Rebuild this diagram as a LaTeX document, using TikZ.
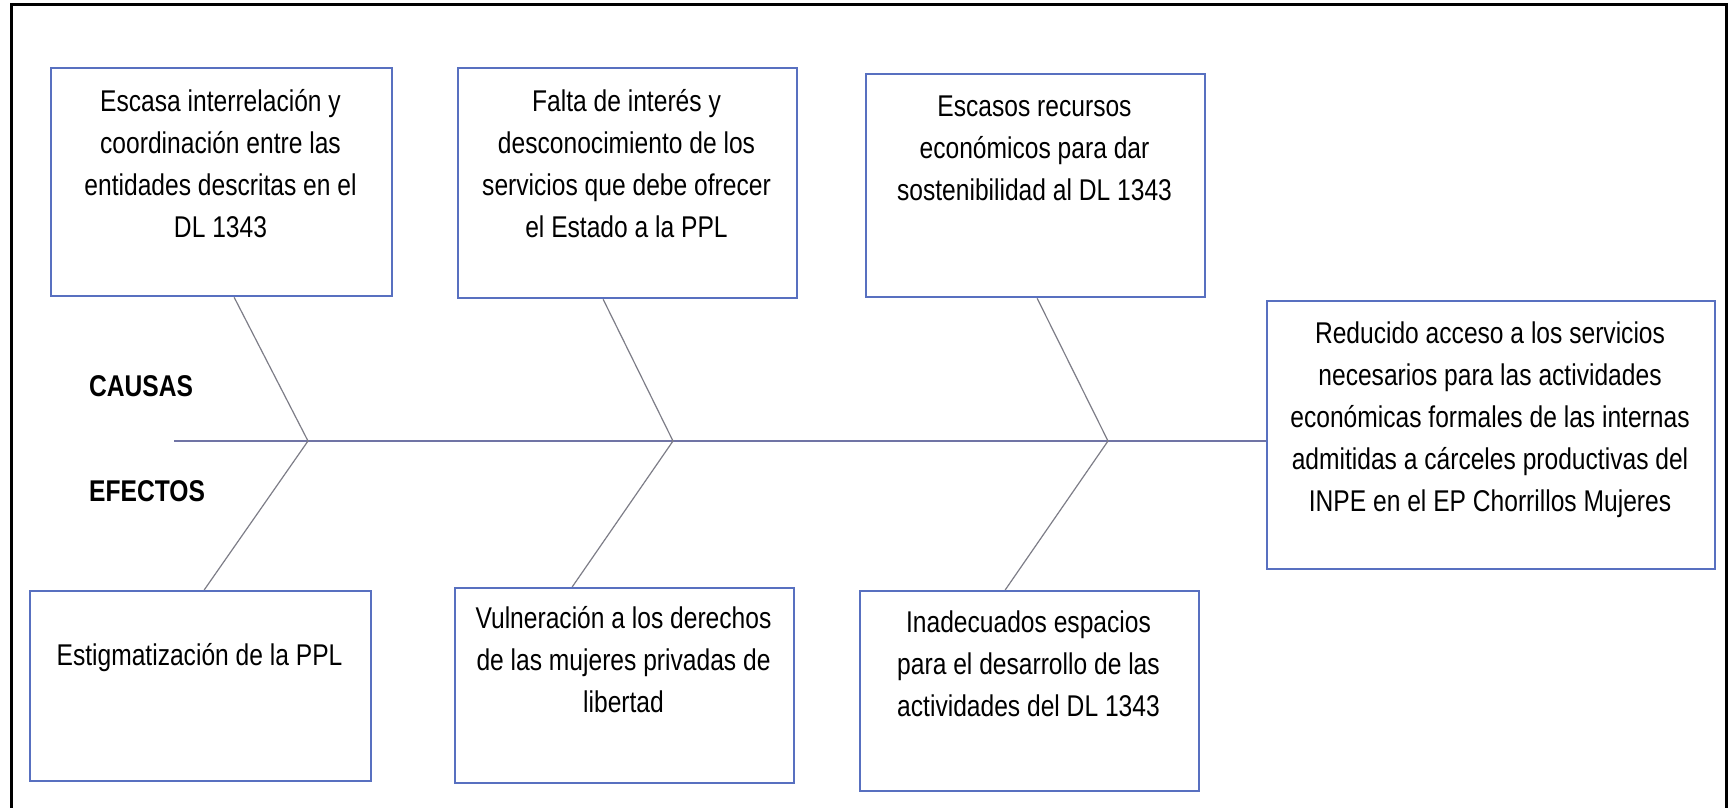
\documentclass[tikz,border=0pt]{standalone}
\usepackage{fontspec}
\setmainfont[FakeStretch=0.82]{Liberation Sans}
\definecolor{boxblue}{RGB}{88,112,192}
\definecolor{spinecol}{RGB}{112,116,165}
\definecolor{bonecol}{RGB}{125,125,135}
\begin{document}
\begin{tikzpicture}[x=1pt,y=-1pt,
  box/.style={draw=boxblue,line width=2.3pt,rectangle,inner sep=0pt,anchor=north west},
  txt/.style={align=center,font=\fontsize{30}{42}\selectfont,inner sep=0pt,anchor=center},
  lbl/.style={font=\fontsize{30}{36}\selectfont\bfseries,inner sep=0pt,anchor=west},
  bone/.style={draw=bonecol,line width=1.2pt},
  spine/.style={draw=spinecol,line width=1.8pt}]
\useasboundingbox (0,0) rectangle (1729,808);
% frame
\draw[line width=3pt] (11,812) -- (11,5) -- (1726,5) -- (1726,812);
% cause boxes
\node[box,minimum width=341pt,minimum height=228pt] (c1) at (50,67) {};
\node[box,minimum width=339pt,minimum height=230pt] (c2) at (457,67) {};
\node[box,minimum width=339pt,minimum height=223pt] (c3) at (865,73) {};
% effect boxes
\node[box,minimum width=341pt,minimum height=190pt] (e1) at (29,590) {};
\node[box,minimum width=339pt,minimum height=195pt] (e2) at (454,587) {};
\node[box,minimum width=339pt,minimum height=200pt] (e3) at (859,590) {};
% problem box
\node[box,minimum width=448pt,minimum height=268pt] (p) at (1266,300) {};
% texts
\node[txt] (tc1) at (220.5,164) {Escasa interrelación y\\coordinación entre las\\entidades descritas en el\\DL 1343};
\node[txt] (tc2) at (626.5,164) {Falta de interés y\\desconocimiento de los\\servicios que debe ofrecer\\el Estado a la PPL};
\node[txt] (tc3) at (1034.5,148) {Escasos recursos\\económicos para dar\\sostenibilidad al DL 1343};
\node[txt] (te1) at (199.5,658) {Estigmatización de la PPL};
\node[txt] (te2) at (623.5,660) {Vulneración a los derechos\\de las mujeres privadas de\\libertad};
\node[txt] (te3) at (1028.5,664) {Inadecuados espacios\\para el desarrollo de las\\actividades del DL 1343};
\node[txt] (tp) at (1490,420) {Reducido acceso a los servicios\\necesarios para las actividades\\económicas formales de las internas\\admitidas a cárceles productivas del\\INPE en el EP Chorrillos Mujeres};
% labels
\node[lbl] (causas) at (89,386) {CAUSAS};
\node[lbl] (efectos) at (89,491) {EFECTOS};
% spine and bones
\coordinate (s0) at (174,441);
\coordinate (j1) at (308,441);
\coordinate (j2) at (673,441);
\coordinate (j3) at (1108,441);
\draw[spine] (s0) -- (s0 -| p.west);
\draw[bone] ([xshift=12.5pt]c1.south) -- (j1) -- ([xshift=3.5pt]e1.north);
\draw[bone] ([xshift=-24.5pt]c2.south) -- (j2) -- ([xshift=-52.5pt]e2.north);
\draw[bone] ([xshift=1.5pt]c3.south) -- (j3) -- ([xshift=-24.5pt]e3.north);
\end{tikzpicture}
\end{document}
